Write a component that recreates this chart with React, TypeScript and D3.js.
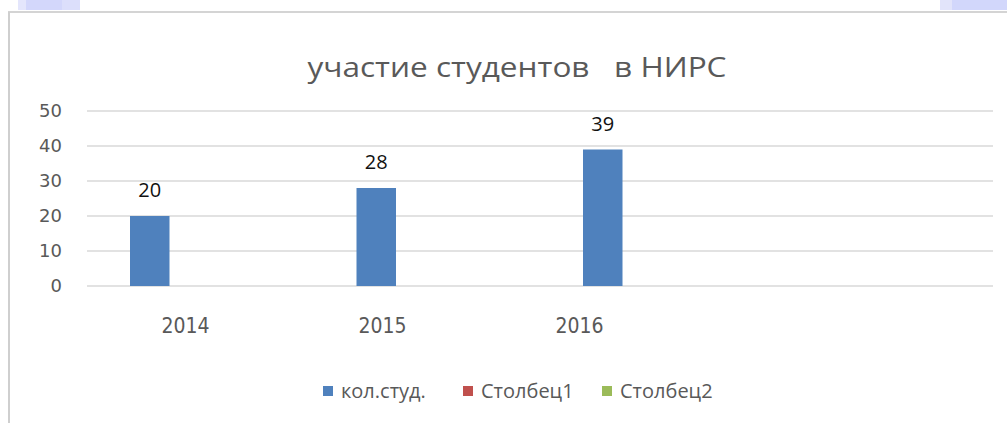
import React from "react";
import * as d3 from "d3";

const categories = ["2014", "2015", "2016", ""];
const seriesNames = ["кол.студ.", "Столбец1", "Столбец2"];
const seriesColors = ["#4F81BD", "#C0504D", "#9BBB59"];
const studentCounts = [20, 28, 39];
const yTicks = [0, 10, 20, 30, 40, 50];
const titleText = "участие студентов   в НИРС";

const W = 1007;
const H = 423;

export default function App() {
  const x = d3.scaleBand<string>().domain(categories.map((c, i) => c || "_" + i)).range([87, 993]);
  const xLabel = d3.scaleBand<string>().domain(categories.map((c, i) => c || "_" + i)).range([87, 87 + 4 * 197]);
  const inner = d3.scaleBand<string>().domain(seriesNames).range([43, 43 + 3 * 39.5]);
  const y = d3.scaleLinear().domain([0, 50]).range([286, 111]);
  const font = "'Open Sans', 'Liberation Sans', Arial, sans-serif";

  const legendX = [323, 463, 602];

  return (
    <svg
      width={W}
      height={H}
      style={{ position: "fixed", left: 0, top: 0, background: "#fff" }}
      fontFamily={font}
    >
      <rect x={0} y={0} width={W} height={H} fill="#fff" />
      {/* decorative slide corners */}
      <rect x={18} y={0} width={8} height={10} fill="#e4e6fc" />
      <rect x={26} y={0} width={36} height={10} fill="#d3d7fb" />
      <rect x={62} y={0} width={18} height={10} fill="#dcdffb" />
      <rect x={940} y={0} width={12} height={10} fill="#e2e4fa" />
      <rect x={952} y={0} width={55} height={10} fill="#d2d7fb" />
      {/* chart frame */}
      <line x1={8} x2={W} y1={12} y2={12} stroke="#d4d4d4" strokeWidth={2} />
      <line x1={9} x2={9} y1={12} y2={H} stroke="#cfcfcf" strokeWidth={2} />

      <text
        x={517}
        y={77}
        textAnchor="middle"
        fontSize={27}
        fill="#595959"
        textLength={419}
        lengthAdjust="spacingAndGlyphs"
        style={{ whiteSpace: "pre" }}
      >
        {titleText}
      </text>

      {yTicks.map((t) => (
        <g key={t}>
          <line x1={87} x2={993} y1={y(t)} y2={y(t)} stroke="#d9d9d9" strokeWidth={1.5} />
          <text
            x={62}
            y={y(t) + 6}
            textAnchor="end"
            fontSize={18}
            fill="#595959"
            fontFamily="'DejaVu Sans', sans-serif"
          >
            {t}
          </text>
        </g>
      ))}

      {studentCounts.map((v, i) => {
        const cat = categories[i];
        const bx = (x(cat) as number) + (inner(seriesNames[0]) as number);
        const bw = inner.bandwidth();
        return (
          <g key={cat}>
            <rect x={bx} y={y(v)} width={bw} height={y(0) - y(v)} fill={seriesColors[0]} />
            <text x={bx + bw / 2} y={y(v) - 19} textAnchor="middle" fontSize={20} fill="#111">
              {v}
            </text>
          </g>
        );
      })}

      {categories.map((c) =>
        c ? (
          <text
            key={c}
            x={(xLabel(c) as number) + xLabel.bandwidth() / 2}
            y={333}
            textAnchor="middle"
            fontSize={21}
            fill="#595959"
            fontFamily="'Liberation Sans Narrow', 'DejaVu Sans Condensed', 'Liberation Sans', sans-serif"
          >
            {c}
          </text>
        ) : null
      )}

      {seriesNames.map((s, i) => (
        <g key={s}>
          <rect x={legendX[i]} y={386} width={10} height={10} fill={seriesColors[i]} />
          <text x={legendX[i] + 18} y={398} fontSize={20} fill="#595959">
            {s}
          </text>
        </g>
      ))}
    </svg>
  );
}
